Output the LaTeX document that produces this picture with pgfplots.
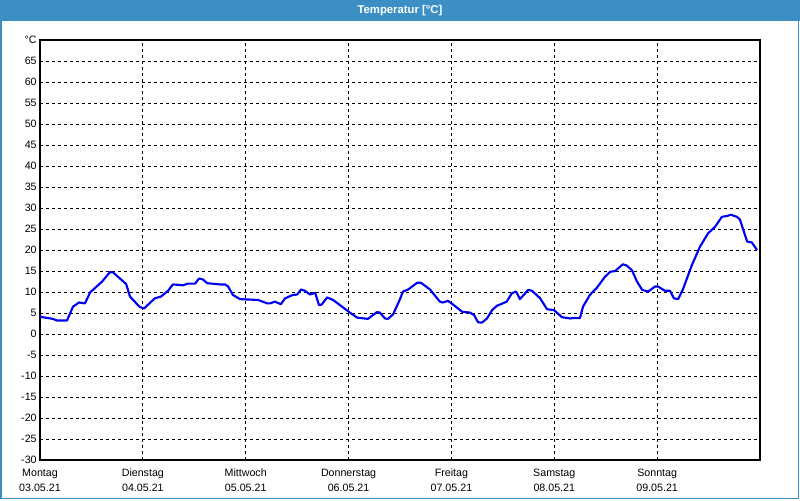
\documentclass[border=0pt]{standalone}
\usepackage{fontspec}
\setmainfont{Liberation Sans}
\usepackage{pgfplots}
\pgfplotsset{compat=1.18}
\definecolor{barblue}{RGB}{59,143,196}
\definecolor{lineblue}{RGB}{0,0,240}
\begin{document}
\begin{tikzpicture}
\fill[white] (0,0) rectangle (600pt,375pt);
\fill[barblue] (0,359.25pt) rectangle (600pt,375pt);
\draw[barblue, line width=1.2pt] (0.6pt,360pt) -- (0.6pt,1.2pt) -- (598.8pt,1.2pt) -- (598.8pt,360pt);
\node[white, font=\bfseries\fontsize{8.5}{10}\selectfont] at (300pt,367.3pt) {Temperatur [°C]};
\begin{axis}[
  at={(30pt,30pt)}, anchor=south west,
  scale only axis, width=540pt, height=315pt,
  xmin=0, xmax=168, ymin=-30, ymax=70,
  axis line style={line width=0.9pt, black},
  grid=major,
  major grid style={black, line width=0.7pt, dash pattern=on 2.25pt off 2.25pt},
  major tick length=0pt,
  xtick={0,24,48,72,96,120,144},
  xticklabels={{Montag\\03.05.21},{Dienstag\\04.05.21},{Mittwoch\\05.05.21},{Donnerstag\\06.05.21},{Freitag\\07.05.21},{Samstag\\08.05.21},{Sonntag\\09.05.21}},
  xticklabel style={align=center, font=\fontsize{8}{11.25}\selectfont, yshift=-3pt},
  ytick={-30,-25,-20,-15,-10,-5,0,5,10,15,20,25,30,35,40,45,50,55,60,65,70},
  yticklabels={-30,-25,-20,-15,-10,-5,0,5,10,15,20,25,30,35,40,45,50,55,60,65,°C},
  yticklabel style={font=\fontsize{8}{9}\selectfont, xshift=1pt},
  /pgf/number format/assume math mode=true,
  clip=true,
]
\addplot[lineblue, line width=1.6pt, line join=round] coordinates {
(0,4.1) (3.0,3.6) (4.0,3.2) (6.3,3.2) (7.7,6.5) (9.1,7.5) (10.5,7.3) (11.7,9.9)
(14.5,12.5) (16.3,14.7) (17.0,14.7) (20.1,11.9) (21.0,8.9) (23.3,6.4) (24.3,6.1)
(26.8,8.5) (28.2,8.9) (29.9,10.3) (31.0,11.8) (33.4,11.6) (34.5,12.0) (36.2,12.0)
(37.1,13.2) (38.0,13.0) (39.0,12.1) (42.0,11.8) (43.2,11.8) (43.9,11.3) (45.0,9.3)
(46.7,8.3) (50.9,8.1) (53.0,7.3) (53.7,7.3) (54.8,7.7) (56.2,7.1) (57.2,8.5)
(59.0,9.3) (60.0,9.4) (60.9,10.6) (61.8,10.3) (63.0,9.4) (64.2,9.8) (65.1,6.9)
(65.7,7.0) (67.0,8.7) (68.4,8.1) (72.3,5.1) (74.0,3.9) (76.5,3.6) (78.6,5.2)
(79.3,5.1) (80.5,3.7) (81.2,3.6) (82.4,4.7) (84.0,8.3) (84.7,10.1) (85.9,10.6)
(88.0,12.2) (88.9,12.2) (91.0,10.6) (93.3,7.7) (94.0,7.5) (95.2,7.9) (96.4,7.0)
(98.5,5.3) (100.3,5.1) (101.3,4.5) (102.2,2.8) (103.1,2.7) (104.3,3.7) (105.5,5.7)
(106.6,6.7) (108.9,7.7) (110.1,9.7) (111.1,10.1) (112.0,8.3) (113.9,10.5) (114.8,10.3)
(116.7,8.5) (118.3,5.9) (119.9,5.7) (121.8,4.0) (123.7,3.7) (124.4,3.8) (126.0,3.8)
(126.7,6.5) (128.3,9.3) (130.0,11.1) (131.8,13.6) (133.0,14.8) (134.2,15.0) (136.0,16.6)
(136.9,16.3) (138.1,15.2) (139.3,12.5) (140.5,10.5) (141.9,10.1) (143.5,11.3) (144.2,11.3)
(145.8,10.3) (147.0,10.3) (147.9,8.5) (148.9,8.3) (150.0,10.6) (152.1,16.4) (154.0,20.8)
(155.9,24.0) (157.5,25.5) (159.1,27.9) (160.3,28.1) (161.2,28.4) (162.6,27.9) (163.3,27.3)
(165.0,22.0) (166.1,21.8) (167.3,20.0)
};
\end{axis}
\end{tikzpicture}
\end{document}
